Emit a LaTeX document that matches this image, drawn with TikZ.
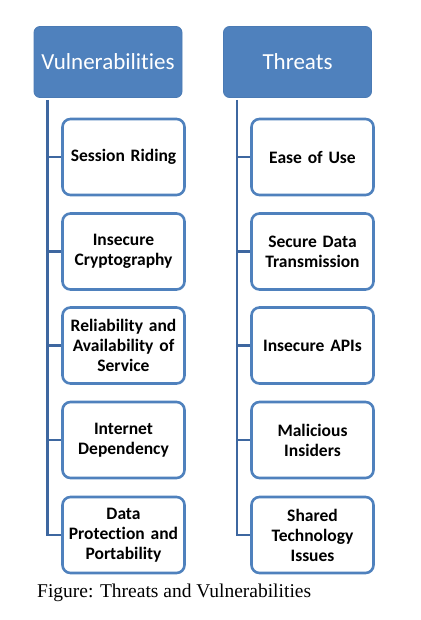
\documentclass[tikz,border=0pt]{standalone}
\usepackage{fontspec}
\setmainfont{Liberation Serif}
\newfontfamily\calib[Ligatures=NoCommon,RawFeature={-liga;-clig;-calt;-dlig}]{Carlito}
\definecolor{hdrblue}{HTML}{4F81BD}
\definecolor{hdrborder}{HTML}{4A7AB4}
\definecolor{treeline}{HTML}{3E67A0}
\begin{document}
\begin{tikzpicture}[x=1pt,y=-1pt,
  header/.style={draw=hdrborder, fill=hdrblue, rounded corners=6pt, line width=0.8pt,
    minimum width=148pt, minimum height=71pt, inner sep=0pt,
    font=\calib\fontsize{23}{27}\selectfont, text=white},
  child/.style={draw=hdrblue, fill=white, rounded corners=8pt, line width=2.6pt,
    minimum width=121pt, minimum height=76pt, inner sep=2pt, align=center, text width=118pt,
    font=\calib\bfseries\fontsize{17.5}{20}\selectfont},
  tree/.style={draw=treeline, line width=2.6pt}]
\useasboundingbox (0,0) rectangle (420,620);
\node[header] (v) at (108,62) {Vulnerabilities};
\node[header] (t) at (297.5,62) {Threats};
% Vulnerabilities children
\node[child] (v1) at (123.5,157) {Session Riding};
\node[child] (v2) at (123.5,251.5) {Insecure\\Cryptography};
\node[child] (v3) at (123.5,345.5) {Reliability and\\Availability of\\Service};
\node[child] (v4) at (123.5,440) {Internet\\Dependency};
\node[child] (v5) at (123.5,535) {Data\\Protection and\\Portability};
% Threats children
\node[child] (t1) at (312.5,157) {Ease of Use};
\node[child] (t2) at (312.5,251.5) {Secure Data\\Transmission};
\node[child] (t3) at (312.5,345.5) {Insecure APIs};
\node[child] (t4) at (312.5,440) {Malicious\\Insiders};
\node[child] (t5) at (312.5,535) {Shared\\Technology\\Issues};
% tree lines
\coordinate (vtop) at (47.5,100);
\coordinate (ttop) at (237,100);
\draw[tree] (vtop) |- (v5.west);
\foreach \i in {1,...,4} { \draw[tree] (vtop |- v\i.west) -- (v\i.west); }
\draw[tree] (ttop) |- (t5.west);
\foreach \i in {1,...,4} { \draw[tree] (ttop |- t\i.west) -- (t\i.west); }
% caption
\node[anchor=west, font=\fontsize{19.5}{23}\selectfont, inner sep=0pt] (cap) at (37,593) {Figure: Threats and Vulnerabilities};
\end{tikzpicture}
\end{document}
